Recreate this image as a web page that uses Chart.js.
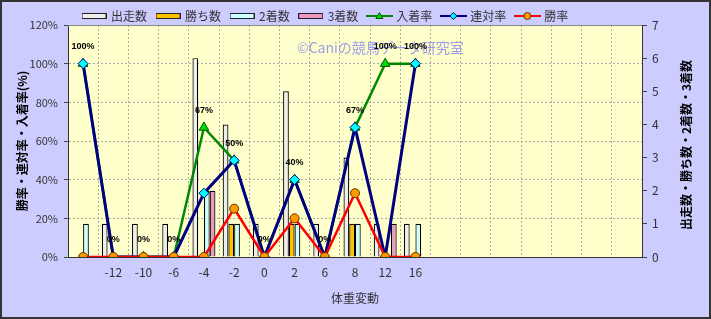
<!DOCTYPE html>
<html lang="ja">
<head>
<meta charset="utf-8">
<title>体重変動</title>
<script src="https://cdn.jsdelivr.net/npm/chart.js@4.4.1/dist/chart.umd.min.js"></script>
<style>
  html, body { margin: 0; padding: 0; background: #ccccff; }
  #wrap { width: 711px; height: 319px; }
</style>
</head>
<body>
<div id="wrap"><canvas id="chart" width="711" height="319"></canvas></div>
<script>
// 体重変動ごとの成績
const weightLabels = ['', '-12', '-10', '-6', '-4', '-2', '0', '2', '6', '8', '12', '16', '', '', '', '', '', '', ''];
const starts  = [null, 1, 1, 1, 6, 4, 1, 5, 1, 3, 1, 1];
const wins    = [0, 0, 0, 0, 0, 1, 0, 1, 0, 1, 0, 0];
const seconds = [1, 0, 0, 0, 2, 1, 0, 1, 0, 1, 0, 1];
const thirds  = [0, 0, 0, 0, 2, 0, 0, 0, 0, 0, 1, 0];
const placeRate  = [100, 0, 0, 0, 67, 50, 0, 40, 0, 67, 100, 100];
const rentaiRate = [100, 0, 0, 0, 33, 50, 0, 40, 0, 67, 0, 100];
const winRate    = [0, 0, 0, 0, 0, 25, 0, 20, 0, 33, 0, 0];
const pctTicks = [0, 20, 40, 60, 80, 100, 120];
const countTicks = [0, 1, 2, 3, 4, 5, 6, 7];

const JP = '"Noto Sans CJK JP", "Noto Sans", sans-serif';

function boxIcon(fill) {
    const c = document.createElement('canvas');
    c.width = 25; c.height = 6;
    const g = c.getContext('2d');
    g.fillStyle = '#222';
    g.fillRect(0, 0, 25, 6);
    g.fillStyle = fill;
    g.fillRect(1, 1, 23, 4);
    return c;
}

function lineIcon(color, shape, fill, edge) {
    const c = document.createElement('canvas');
    c.width = 27; c.height = 10;
    const g = c.getContext('2d');
    g.strokeStyle = color;
    g.lineWidth = 2;
    g.beginPath(); g.moveTo(0, 5); g.lineTo(27, 5); g.stroke();
    g.fillStyle = fill;
    g.strokeStyle = edge;
    g.lineWidth = 1;
    g.beginPath();
    if (shape === 'triangle') {
        g.moveTo(13.5, 1.5); g.lineTo(17, 7.5); g.lineTo(10, 7.5); g.closePath();
    } else if (shape === 'diamond') {
        g.moveTo(13.5, 1.5); g.lineTo(17, 5); g.lineTo(13.5, 8.5); g.lineTo(10, 5); g.closePath();
    } else {
        g.arc(13.5, 5, 3.5, 0, Math.PI * 2);
    }
    g.fill(); g.stroke();
    return c;
}

const legendIcons = [
    boxIcon('#eeeeee'),
    boxIcon('#ffc000'),
    boxIcon('#ccffff'),
    boxIcon('#e899c0'),
    lineIcon('#008800', 'triangle', '#00dd00', '#005500'),
    lineIcon('#000080', 'diamond', '#00ffff', '#000080'),
    lineIcon('#ff0000', 'circle', '#ff9900', '#663300')
];

// 背景・枠
const backdrop = {
    id: 'backdrop',
    afterLayout(chart) {
        // 凡例を少し右へ
        chart.legend.left += 5;
        chart.legend.right += 5;
    },
    beforeDraw(chart) {
        const { ctx, chartArea: a } = chart;
        ctx.save();
        ctx.fillStyle = '#ccccff';
        ctx.fillRect(0, 0, chart.width, chart.height);
        ctx.fillStyle = '#ffffcc';
        ctx.fillRect(a.left, a.top, a.right - a.left, a.bottom - a.top);
        ctx.restore();
    },
    beforeDatasetsDraw(chart) {
        const { ctx, chartArea: a } = chart;
        ctx.save();
        ctx.strokeStyle = '#888';
        ctx.lineWidth = 1;
        ctx.beginPath();
        ctx.moveTo(a.left, a.top + 0.5);
        ctx.lineTo(a.right, a.top + 0.5);
        ctx.stroke();
        ctx.restore();
    },
    afterDraw(chart) {
        const ctx = chart.ctx;
        ctx.save();
        // 右軸タイトル（下から上へ）
        ctx.translate(686, 145);
        ctx.rotate(-Math.PI / 2);
        ctx.font = 'bold 12px ' + JP;
        ctx.fillStyle = '#000';
        ctx.textAlign = 'center';
        ctx.textBaseline = 'middle';
        ctx.fillText('出走数・勝ち数・2着数・3着数', 0, 0);
        ctx.restore();

        ctx.save();
        ctx.strokeStyle = '#333';
        ctx.lineWidth = 2;
        ctx.strokeRect(1, 1, chart.width - 2, chart.height - 2);
        ctx.restore();
    }
};

// 透かし文字と入着率ラベル
const overlay = {
    id: 'overlay',
    afterDatasetsDraw(chart) {
        const ctx = chart.ctx;
        ctx.save();
        ctx.font = '14px ' + JP;
        ctx.fillStyle = 'rgba(140, 140, 240, 0.85)';
        ctx.textAlign = 'left';
        ctx.textBaseline = 'middle';
        ctx.fillText('©Caniの競馬データ研究室', 297, 48);

        const meta = chart.getDatasetMeta(4);
        ctx.font = 'bold 9px "Liberation Sans", sans-serif';
        ctx.fillStyle = '#000';
        ctx.textAlign = 'center';
        meta.data.forEach((pt, i) => {
            if (placeRate[i] == null) return;
            ctx.fillText(placeRate[i] + '%', pt.x, pt.y - 17);
        });
        ctx.restore();
    }
};

const barBase = { borderColor: '#000', borderWidth: 1.2, yAxisID: 'y1', categoryPercentage: 0.76, barPercentage: 1 };
const lineBase = { type: 'line', yAxisID: 'y', tension: 0, pointBorderWidth: 1, fill: false };

new Chart(document.getElementById('chart'), {
    type: 'bar',
    data: {
        labels: weightLabels,
        datasets: [
            { ...barBase, label: '出走数', data: starts, backgroundColor: '#eeeeee', order: 10 },
            { ...barBase, label: '勝ち数', data: wins, backgroundColor: '#ffc000', order: 11 },
            { ...barBase, label: '2着数', data: seconds, backgroundColor: '#ccffff', order: 12 },
            { ...barBase, label: '3着数', data: thirds, backgroundColor: '#e899c0', order: 13 },
            { ...lineBase, label: '入着率', data: placeRate, borderColor: '#008800', borderWidth: 2.5,
              pointStyle: 'triangle', pointRadius: 5.5, pointBackgroundColor: '#00dd00', pointBorderColor: '#005500', order: 3 },
            { ...lineBase, label: '連対率', data: rentaiRate, borderColor: '#000080', borderWidth: 3,
              pointStyle: 'rectRot', pointRadius: 5, pointBackgroundColor: '#00ffff', pointBorderColor: '#000080', order: 2 },
            { ...lineBase, label: '勝率', data: winRate, borderColor: '#ff0000', borderWidth: 2.5,
              pointStyle: 'circle', pointRadius: 4.5, pointBackgroundColor: '#ff9900', pointBorderColor: '#663300', order: 1 }
        ]
    },
    options: {
        responsive: false,
        animation: false,
        events: [],
        layout: { padding: 0 },
        scales: {
            x: {
                grid: { color: '#aaa', drawTicks: false },
                border: { color: '#333', dash: [2, 2] },
                ticks: { color: '#333', font: { size: 12, family: JP }, padding: 8, autoSkip: false, maxRotation: 0 },
                title: { display: true, text: '体重変動', color: '#333', font: { size: 12, family: JP }, padding: 13 },
                afterFit(scale) { scale.height = 62; }
            },
            y: {
                position: 'left',
                min: 0, max: 120,
                afterBuildTicks(scale) { scale.ticks = pctTicks.map(v => ({ value: v })); },
                grid: { color: '#aaa', tickColor: '#444', tickLength: 4 },
                border: { color: '#333', dash: [2, 2] },
                ticks: { color: '#333', font: { size: 11, family: JP }, padding: 6, callback: v => v + '%' },
                title: { display: true, text: '勝率・連対率・入着率(%)', color: '#000', font: { size: 12, weight: 'bold', family: JP }, padding: 15 },
                afterFit(scale) { scale.width = 68; }
            },
            y1: {
                position: 'right',
                min: 0, max: 7,
                afterBuildTicks(scale) { scale.ticks = countTicks.map(v => ({ value: v })); },
                grid: { drawOnChartArea: false, tickColor: '#444', tickLength: 5 },
                border: { color: '#333' },
                ticks: { color: '#333', font: { size: 12, family: JP }, padding: 5 },
                afterFit(scale) { scale.width = 69; }
            }
        },
        plugins: {
            tooltip: { enabled: false },
            legend: {
                position: 'top',
                align: 'start',
                fullSize: false,
                maxHeight: 25,
                labels: {
                    usePointStyle: true,
                    pointStyleWidth: 22,
                    padding: 10,
                    color: '#333',
                    font: { size: 12, family: JP },
                    generateLabels(chart) {
                        return chart.data.datasets.map((ds, i) => ({
                            text: ds.label,
                            datasetIndex: i,
                            pointStyle: legendIcons[i],
                            fillStyle: 'transparent',
                            strokeStyle: 'transparent',
                            lineWidth: 0,
                            hidden: false,
                            fontColor: '#333'
                        }));
                    }
                }
            }
        }
    },
    plugins: [backdrop, overlay]
});
</script>
</body>
</html>
